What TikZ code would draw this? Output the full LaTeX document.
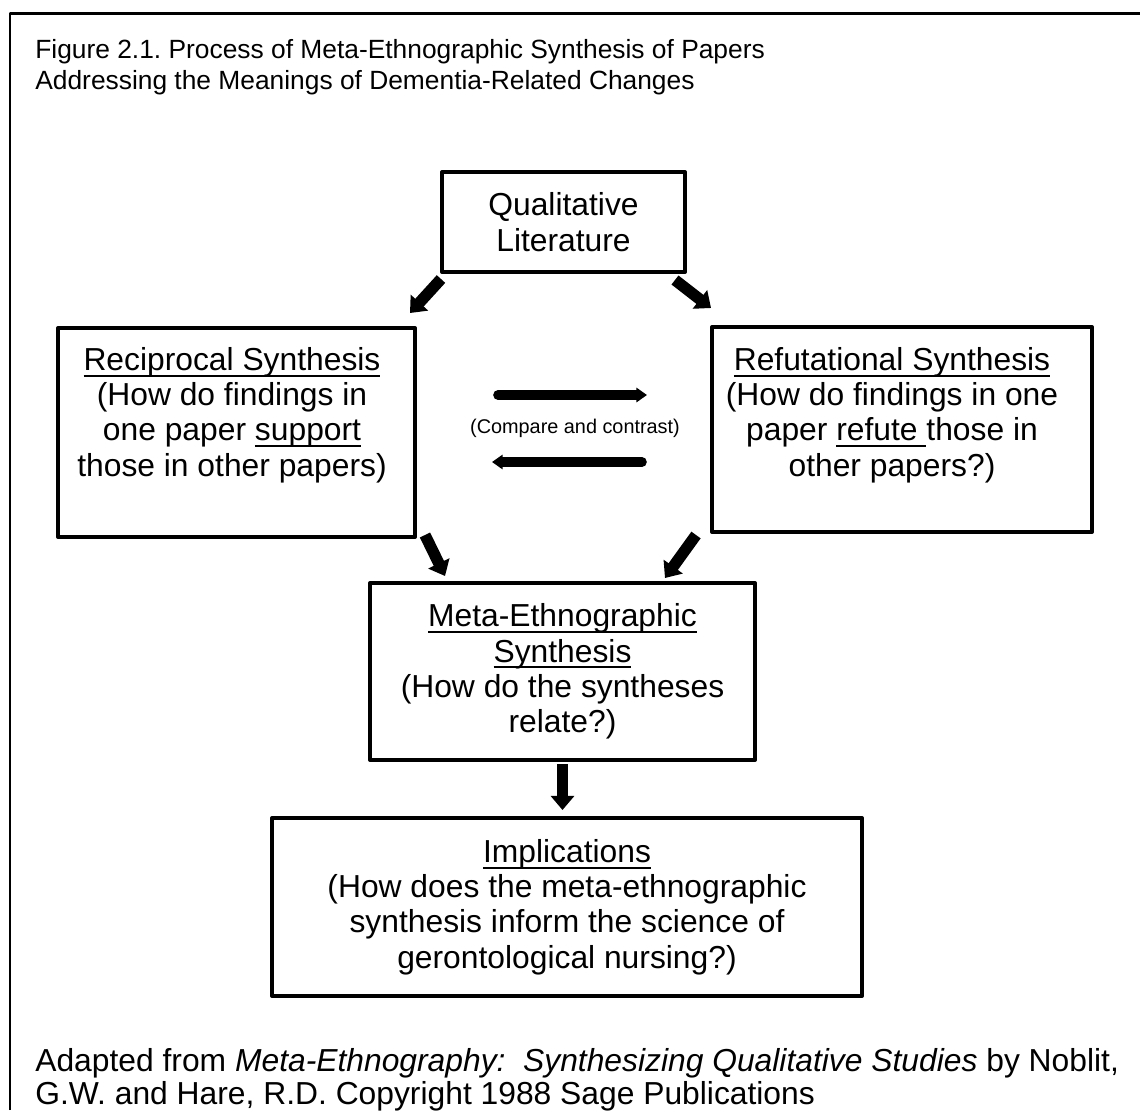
\documentclass[tikz,border=0pt]{standalone}
\usepackage{fontspec}
\setmainfont{Liberation Sans}
\usetikzlibrary{arrows.meta,calc}
\newcommand{\ulx}[1]{\setbox0\hbox{#1}\leavevmode\rlap{\rule[-3.6pt]{\wd0}{1.1pt}}\box0}
\frenchspacing

\begin{document}
\begin{tikzpicture}[x=0.02cm,y=-0.02cm,>={Triangle[length=8pt,width=13pt]},line join=round]
\tikzstyle{block}=[draw,line width=2.3pt,inner sep=0pt]
\tikzstyle{blocktext}=[align=center,font=\fontsize{18.1}{20.1}\selectfont]
\tikzstyle{bigarrow}=[->,line width=6.5pt]
\tikzstyle{sidearrow}=[->,line width=5.5pt,line cap=round,>={Triangle[length=6pt,width=8pt]}]
\useasboundingbox (0,0) rectangle (1140,1110);
\draw[line width=1.7pt] (10,1110) |- (1140,13);
\node[anchor=west,align=left,inner sep=0pt,font=\fontsize{15}{17.6}\selectfont] (title) at (35,67) {Figure 2.1. Process of Meta-Ethnographic Synthesis of Papers\\Addressing the Meanings of Dementia-Related Changes};
\node[block,blocktext,minimum width=4.86cm,minimum height=2cm] (lit) at (563.5,222) {Qualitative\\Literature};
\node[block,minimum width=7.14cm,minimum height=4.18cm] (rec) at (236.5,432.5) {};
\node[blocktext] (recT) at (232,415) {\ulx{Reciprocal Synthesis}\\ (How do findings in\\one paper \ulx{support}\\those in other papers)};
\node[block,minimum width=7.6cm,minimum height=4.1cm] (ref) at (902,429.5) {};
\node[blocktext] (refT) at (892,415) {\ulx{Refutational Synthesis}\\(How do findings in one\\paper \ulx{refute\ }those in\\other papers?)};
\node[font=\fontsize{11.3}{13}\selectfont] (cmp) at (575,428) {(Compare and contrast)};
\node[block,blocktext,minimum width=7.7cm,minimum height=3.54cm] (meta) at (562.5,671.5) {\ulx{Meta-Ethnographic}\\\ulx{Synthesis}\\(How do the syntheses\\relate?)};
\node[block,blocktext,minimum width=11.8cm,minimum height=3.56cm] (impl) at (567,907) {\ulx{Implications}\\(How does the meta-ethnographic\\synthesis inform the science of\\gerontological nursing?)};
\node[anchor=west,align=left,inner sep=0pt,font=\fontsize{18.1}{18.7}\selectfont] (note) at (35,1080) {Adapted from \textit{Meta-Ethnography:\ \ Synthesizing Qualitative Studies} by Noblit,\\G.W. and Hare, R.D. Copyright 1988 Sage Publications};
\draw[bigarrow] ($(lit.south west)+(1,5)$) -- ($(rec.north east)+(-7,-13)$);
\draw[bigarrow] ($(lit.south east)+(-12,6)$) -- ($(ref.north west)+(1,-17)$);
\draw[bigarrow] ($(rec.south east)+(8,-4)$) -- ($(meta.north west)+(77,-5)$);
\draw[bigarrow] ($(ref.south west)+(-14,1)$) -- ($(meta.north east)+(-92,-3)$);
\draw[bigarrow] ($(meta.south)+(0,2)$) -- ($(meta.south |- impl.north)+(0,-6)$);
\draw[sidearrow] ($(cmp)+(-77,-33)$) -- ($(cmp)+(72,-33)$);
\draw[sidearrow] ($(cmp)+(67,34)$) -- ($(cmp)+(-83,34)$);
\end{tikzpicture}
\end{document}
